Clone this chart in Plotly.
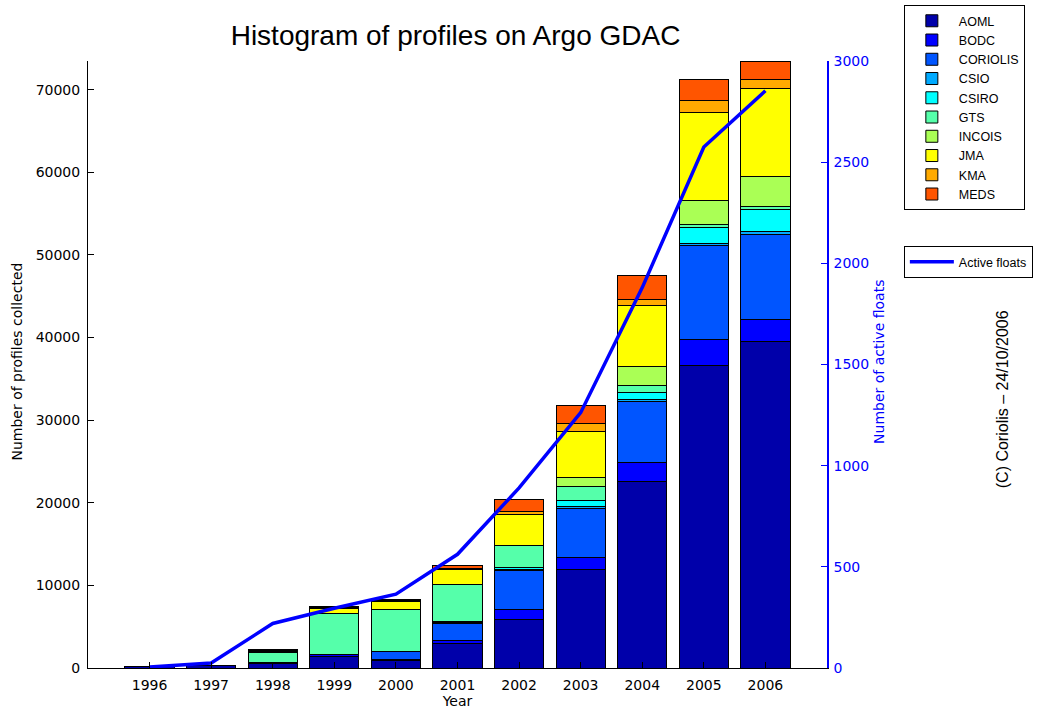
import plotly.graph_objects as go

years = [1996, 1997, 1998, 1999, 2000, 2001, 2002, 2003, 2004, 2005, 2006]
centres = ["AOML", "BODC", "CORIOLIS", "CSIO", "CSIRO", "GTS", "INCOIS", "JMA", "KMA", "MEDS"]

aoml     = [200, 300, 500, 1450, 850, 2950, 5850, 11880, 22600, 36570, 39500]
bodc     = [0, 0, 150, 200, 150, 400, 1250, 1540, 2300, 3150, 2730]
coriolis = [0, 0, 0, 0, 1000, 2000, 4650, 5830, 7350, 11400, 10290]
csio     = [0, 0, 0, 0, 0, 150, 200, 330, 300, 250, 300]
csiro    = [0, 0, 0, 0, 0, 150, 250, 710, 850, 1950, 2650]
gts      = [0, 50, 1200, 4900, 5100, 4500, 2650, 1650, 850, 350, 350]
incois   = [0, 0, 0, 0, 0, 0, 0, 1160, 2250, 2950, 3650]
jma      = [0, 0, 200, 700, 1000, 1750, 3700, 5500, 7350, 10620, 10650]
kma      = [0, 0, 100, 50, 100, 100, 350, 980, 750, 1500, 1100]
meds     = [0, 0, 100, 100, 70, 350, 1500, 2150, 2950, 2550, 2250]

active_floats = [5, 25, 220, 295, 365, 562, 890, 1262, 1880, 2575, 2853]

series = [aoml, bodc, coriolis, csio, csiro, gts, incois, jma, kma, meds]
colors = ["#0000AA", "#0000FF", "#0055FF", "#00AAFF", "#00FFFF",
          "#55FFAA", "#AAFF55", "#FFFF00", "#FFAA00", "#FF5500"]

FONT = "DejaVu Sans, Verdana, sans-serif"
TFONT = "Liberation Sans, Arial, Helvetica, sans-serif"

fig = go.Figure()
for name, vals, col in zip(centres, series, colors):
    fig.add_trace(go.Bar(
        x=years, y=vals, name=name, width=0.8,
        marker=dict(color=col, line=dict(color="black", width=1)),
        legend="legend",
    ))

fig.add_trace(go.Scatter(
    x=years, y=active_floats, name="Active floats", mode="lines",
    line=dict(color="#0000FF", width=3.5), yaxis="y2", legend="legend2",
))

ymax = max(sum(s[i] for s in series) for i in range(len(years)))

fig.update_layout(
    width=1046, height=711,
    margin=dict(l=88, r=219, t=61, b=43, autoexpand=False),
    paper_bgcolor="white", plot_bgcolor="white",
    barmode="stack", bargap=0.2,
    font=dict(family=FONT, size=14, color="black"),
    title=dict(text="Histogram of profiles on Argo GDAC", x=0.4355, xanchor="center",
               y=0.95, yanchor="middle", font=dict(family=TFONT, size=28, color="black")),
    xaxis=dict(range=[1995, 2007], tickvals=years, ticktext=[str(y) for y in years],
               ticks="inside", ticklen=6, tickcolor="black", showline=True,
               linecolor="black", linewidth=1, showgrid=False, zeroline=False,
               tickfont=dict(size=14), ticklabelstandoff=4,
               title=dict(text="Year", font=dict(size=14), standoff=2)),
    yaxis=dict(range=[0, ymax], tickvals=list(range(0, 70001, 10000)),
               ticktext=[str(v) for v in range(0, 70001, 10000)],
               ticks="inside", ticklen=6, tickcolor="black", showline=True,
               linecolor="black", linewidth=1, showgrid=False, zeroline=False,
               tickfont=dict(size=14), ticklabelstandoff=4),
    yaxis2=dict(range=[0, 3000], overlaying="y", side="right",
                tickvals=list(range(0, 3001, 500)),
                ticktext=[str(v) for v in range(0, 3001, 500)],
                ticks="inside", ticklen=6,
                tickcolor="#0000FF", showline=True, linecolor="#0000FF", linewidth=1.5,
                showgrid=False, zeroline=False, tickfont=dict(size=14, color="#0000FF"),
                ticklabelstandoff=2),
    legend=dict(x=1.104, y=1.092, xanchor="left", yanchor="top", traceorder="normal",
                bordercolor="black", borderwidth=1, bgcolor="white",
                font=dict(family=TFONT, size=12.5), tracegroupgap=0, itemwidth=44),
    legend2=dict(x=1.104, y=0.695, xanchor="left", yanchor="top",
                 bordercolor="black", borderwidth=1, bgcolor="white",
                 font=dict(family=TFONT, size=12.5), itemwidth=44),
    annotations=[
        dict(text="Number of profiles collected", xref="paper", yref="paper",
             x=-0.096, y=0.505, textangle=-90, showarrow=False, xanchor="center",
             yanchor="middle", font=dict(size=14, color="black")),
        dict(text="Number of active floats", xref="paper", yref="paper",
             x=1.071, y=0.505, textangle=-90, showarrow=False, xanchor="center",
             yanchor="middle", font=dict(size=14, color="#0000FF")),
        dict(text="(C) Coriolis \u2013 24/10/2006", xref="paper", yref="paper",
             x=1.237, y=0.443, textangle=-90, showarrow=False, xanchor="center",
             yanchor="middle", font=dict(family=TFONT, size=16, color="black")),
    ],
)

fig.write_html("out.html", post_script="document.body.style.margin='0';",
               config={"displayModeBar": False})
